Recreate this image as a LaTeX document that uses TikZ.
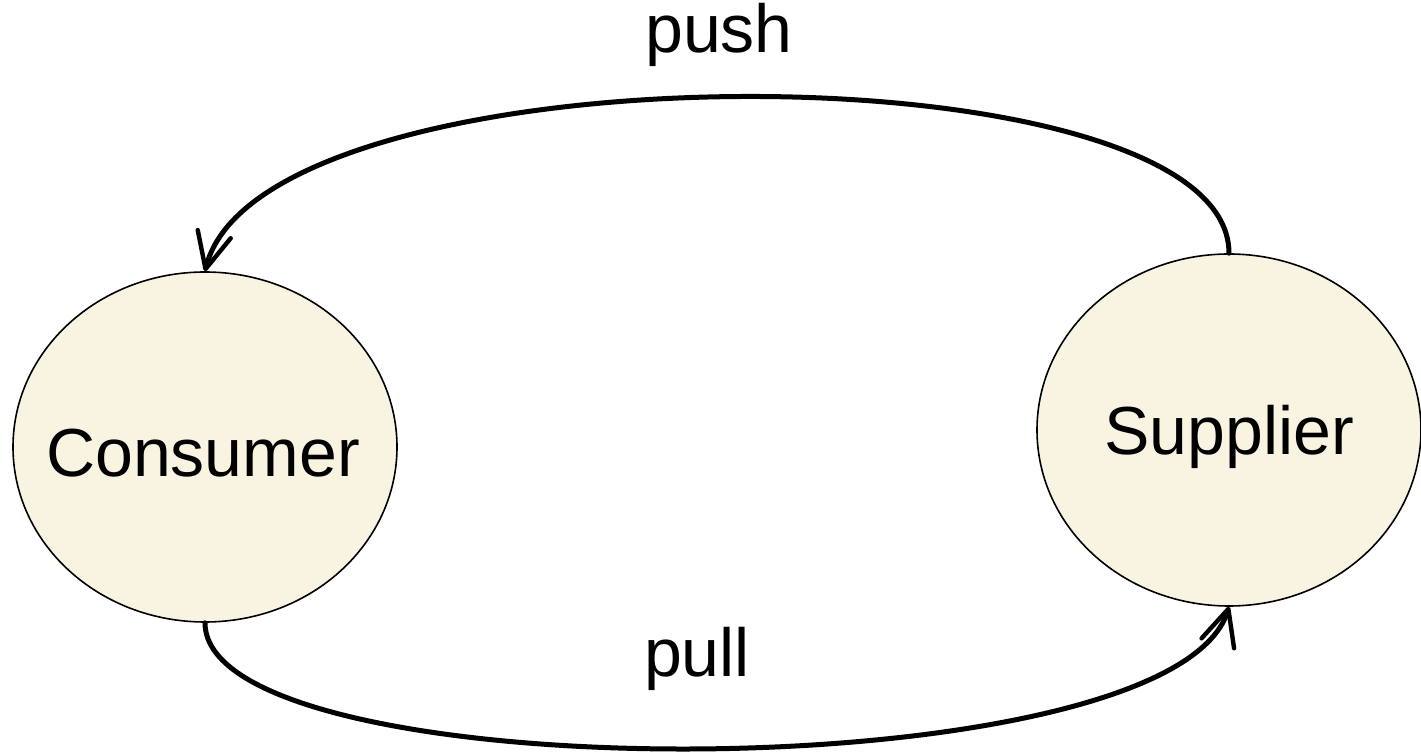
\documentclass[tikz,border=0pt]{standalone}
\usepackage{fontspec}
\setmainfont{Liberation Sans}
\usetikzlibrary{shapes.geometric,arrows.meta}
\definecolor{cream}{RGB}{249,244,225}
\tikzset{
  party/.style={ellipse, draw=black, line width=0.8pt, fill=cream, inner sep=0pt},
  lbl/.style={font=\fontsize{34}{40}\selectfont, inner sep=0pt, anchor=base},
  flow/.style={draw=black, line width=2.5pt, line cap=round,
    -{Straight Barb[length=18pt, width=17pt, line width=2.2pt, round]}}
}
\begin{document}
\begin{tikzpicture}[x=0.5pt, y=-0.5pt]
\useasboundingbox (0,0) rectangle (1421,753);
\node[party, minimum width=192pt, minimum height=175pt] (con) at (205,447) {};
\node[party, minimum width=192pt, minimum height=176pt] (sup) at (1229,430) {};
\node[lbl] (contxt) at (203,477) {Consumer};
\node[lbl] (suptxt) at (1229,455) {Supplier};
\node[lbl] (push) at (719,53) {push};
\node[lbl] (pull) at (697,677) {pull};
\draw[flow] (sup.north) .. controls (1229,42) and (262,42) .. (con.north);
\draw[flow] (con.south) .. controls (205,793) and (1172,793) .. (sup.south);
\end{tikzpicture}
\end{document}
